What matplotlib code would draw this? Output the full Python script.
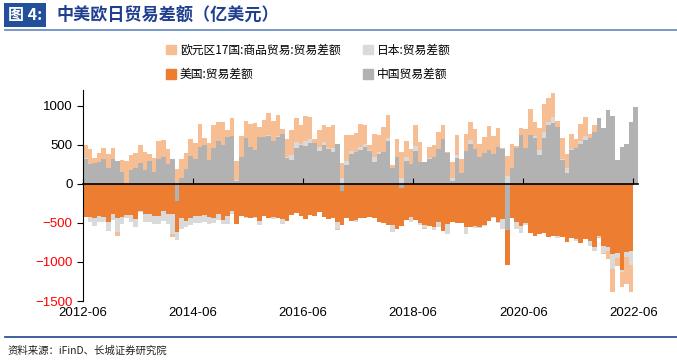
import numpy as np
import matplotlib
matplotlib.use("Agg")
import matplotlib.pyplot as plt
from matplotlib.patches import Patch
from matplotlib.lines import Line2D

plt.rcParams['font.family'] = ['Liberation Sans', 'Noto Sans CJK SC', 'DejaVu Sans']

# monthly data, 2012-06 .. 2022-06, unit: 亿美元
china = [317, 251, 266, 277, 320, 196, 316,
         291, 153, -9, 181, 204, 271, 178, 286, 152, 311, 338, 256,
         319, -215, 77, 184, 359, 316, 473, 498, 310, 454, 546, 496,
         600, 606, 30, 341, 592, 465, 430, 602, 603, 616, 541, 601,
         632, 326, 298, 455, 500, 481, 523, 520, 420, 490, 446, 407,
         513, -91, 240, 380, 409, 428, 467, 420, 285, 381, 402, 550,
         203, 337, -50, 287, 249, 416, 280, 279, 317, 340, 447, 570,
         392, 41, 326, 138, 417, 510, 450, 348, 396, 428, 387, 468,
         450, -590, 199, 453, 629, 464, 623, 589, 370, 584, 754, 782,
         730, 300, 138, 428, 455, 515, 565, 583, 667, 845, 717, 944,
         870, 310, 473, 511, 787, 979]
usa = [-429, -420, -442, -415, -422, -487, -385,
       -444, -430, -388, -403, -450, -342, -391, -388, -418, -406, -343, -387,
       -391, -400, -442, -472, -444, -415, -408, -401, -430, -434, -390, -466,
       -418, -354, -514, -409, -419, -438, -419, -480, -408, -439, -424, -434,
       -457, -471, -404, -374, -411, -445, -395, -407, -364, -426, -452, -443,
       -485, -436, -437, -476, -465, -436, -437, -424, -435, -487, -505, -531,
       -531, -576, -490, -462, -431, -463, -501, -532, -540, -555, -493, -598,
       -511, -494, -500, -508, -555, -555, -540, -549, -525, -472, -431, -489,
       -453, -445, -444, -494, -546, -507, -636, -671, -639, -631, -681, -666,
       -666, -682, -744, -689, -712, -757, -701, -733, -809, -671, -802, -807,
       -897, -892, -1098, -871, -855, np.nan]
japan = [8, -66, -96, -71, -69, -117, -76,
         -178, -83, -38, -90, -99, -18, -103, -98, -95, -111, -127, -126,
         -250, -105, -141, -79, -89, -81, -94, -91, -88, -65, -76, -55,
         -99, -36, 19, -4, -18, -6, -22, -46, -10, 9, -31, 12,
         -55, 21, 67, 75, 4, 66, 49, -2, 49, 48, 14, 55,
         -95, 72, 55, 43, -18, 39, 38, 10, 60, 25, 10, 32,
         -86, 0, 75, 58, -53, 65, -21, -40, 12, -40, -65, -5,
         -130, 31, 48, 6, -88, 54, -23, -13, -11, 2, -8, -14,
         -120, 101, 0, -87, -78, -25, 1, 23, 64, 83, 35, 72,
         -31, 20, 60, 23, -17, 35, 40, -58, -56, -6, -84, -51,
         -190, -58, -34, -66, -184, np.nan]
euro = [166, 189, 67, 112, 141, 180, 145,
        -50, 155, 295, 190, 195, 225, 233, 92, 175, 232, 228, 190,
        -40, 186, 235, 208, 220, 210, 292, 92, 212, 300, 247, 300,
        90, 230, 240, 265, 211, 295, 345, 125, 213, 275, 265, 265,
        69, 220, 318, 313, 253, 325, 282, 49, 224, 217, 270, 288,
        -6, 192, 330, 195, 238, 296, 250, 63, 296, 222, 310, 303,
        41, 232, 331, 202, 195, 267, 249, -2, 140, 153, 216, 179,
        17, 210, 253, 176, 226, 232, 256, 162, 201, 315, 229, 246,
        14, 250, 310, 31, 88, 238, 327, 174, 285, 354, 307, 310,
        70, 263, 189, 190, 115, 218, 245, 48, 86, -15, -17, -110,
        -300, -100, -195, -345, -340, np.nan]

tick_labels = ['2012-06', '2014-06', '2016-06', '2018-06', '2020-06', '2022-06']
names = ['中国贸易差额', '美国:贸易差额', '日本:贸易差额', '欧元区17国:商品贸易:贸易差额']
colors = ['#B2B2B2', '#ED7D31', '#DADADA', '#F8BE93']

fig = plt.figure(figsize=(6.77, 3.60), dpi=100)
ax = fig.add_axes([83 / 677, 1 - 301 / 360, 555 / 677, 211 / 360])

x = np.arange(len(china))
pos = np.zeros(len(x))
neg = np.zeros(len(x))
handles = {}
for vals, name, c in zip([china, usa, japan, euro], names, colors):
    v = np.nan_to_num(np.array(vals, dtype=float))
    bottom = np.where(v >= 0, pos, neg)
    ax.bar(x, v, bottom=bottom, width=1.0, align='edge', color=c,
           linewidth=0, antialiased=False)
    pos += np.clip(v, 0, None)
    neg += np.clip(v, None, 0)
    handles[name] = Patch(color=c)

ax.set_xlim(0, 121)
ax.set_ylim(-1500, 1200)
ax.set_yticks([-1500, -1000, -500, 0, 500, 1000])
ax.set_xticks(np.arange(0, 121, 24))
ax.set_xticklabels(tick_labels)

ax.spines['top'].set_visible(False)
ax.spines['right'].set_visible(False)
ax.spines['bottom'].set_position(('data', 0))
ax.spines['bottom'].set_linewidth(1.2)
ax.tick_params(axis='x', direction='in', length=4, pad=89, labelsize=9.5)
ax.tick_params(axis='y', direction='out', length=4, labelsize=9.5)
for lab, val in zip(ax.get_yticklabels(), ax.get_yticks()):
    if val < 0:
        lab.set_color('#FF0000')

order = [names[3], names[1], names[2], names[0]]
fig.legend([handles[n] for n in order], order, ncol=2, loc='upper left',
           bbox_to_anchor=(155 / 677, 1 - 33 / 360), frameon=False,
           prop={'family': ['Noto Sans CJK SC'], 'size': 8.5},
           handlelength=0.9, handleheight=0.9, handletextpad=0.3,
           columnspacing=1.9, labelspacing=0.95)

# header and footer
fig.text(8 / 677, 1 - 15 / 360, '图 4:', color='white', fontsize=11.5, fontweight='bold',
         va='center', family=['Noto Sans CJK SC'],
         bbox=dict(boxstyle='square,pad=0.25', facecolor='#23509A', edgecolor='none'))
fig.text(56 / 677, 1 - 15 / 360, '中美欧日贸易差额（亿美元）', color='#1F3F8F', fontsize=12.3,
         fontweight='bold', va='center', family=['Noto Sans CJK SC'])
fig.add_artist(Line2D([5 / 677, 1], [1 - 30 / 360] * 2, transform=fig.transFigure,
                      color='#6E8FC6', linewidth=1.3))
fig.add_artist(Line2D([5 / 677, 1], [1 - 337 / 360] * 2, transform=fig.transFigure,
                      color='#2E5597', linewidth=1.3))
fig.text(8 / 677, 1 - 351 / 360, '资料来源：iFinD、长城证券研究院', fontsize=7.5,
         va='center', color='#222222', family=['Noto Sans CJK SC'])

fig.savefig('out.png', dpi=100)
